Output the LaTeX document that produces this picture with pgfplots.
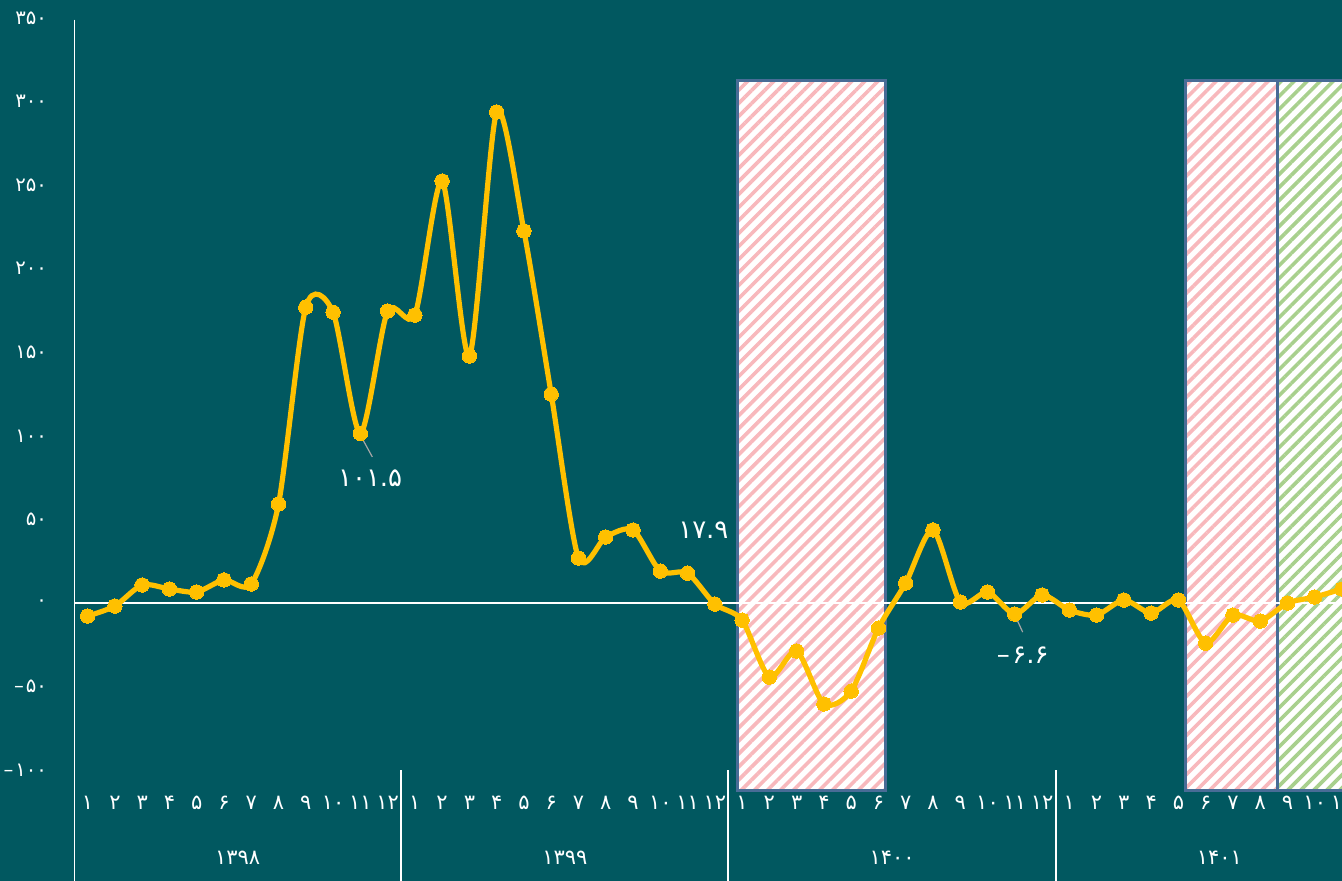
\documentclass[border=0pt]{standalone}
\usepackage{fontspec}
\setmainfont{DejaVu Sans}
\usepackage{pgfplots}
\pgfplotsset{compat=1.18}
\usetikzlibrary{patterns.meta}
\definecolor{bg}{RGB}{1,88,96}
\definecolor{gold}{RGB}{255,192,0}
\definecolor{pinkh}{RGB}{248,184,188}
\definecolor{greenh}{RGB}{168,208,141}
\definecolor{rectb}{RGB}{72,108,150}
\pgfplotstableread{
x y
0.5 -7.8
1.5 -1.8
2.5 10.8
3.5 8.4
4.5 6.6
5.5 13.8
6.5 11.4
7.5 59.2
8.5 177
9.5 174
10.5 101.5
11.5 174.7
12.5 172.3
13.5 252.5
14.5 147.8
15.5 293.8
16.5 222.6
17.5 125
18.5 26.9
19.5 39.5
20.5 43.7
21.5 19.1
22.5 17.9
23.5 -0.6
24.5 -10.2
25.5 -44.3
26.5 -28.7
27.5 -60.4
28.5 -52.7
29.5 -15
30.5 12
31.5 43.7
32.5 0.6
33.5 6.6
34.5 -6.6
35.5 4.8
36.5 -4.2
37.5 -7.2
38.5 1.8
39.5 -6
40.5 1.8
41.5 -24
42.5 -7.2
43.5 -10.8
44.5 0
45.5 3.6
46.5 8.4
}\datatable
\begin{document}
\begin{tikzpicture}
\fill[bg] (0,0) rectangle (671pt,440.5pt);
\useasboundingbox (0,0) rectangle (671pt,440.5pt);
\begin{axis}[
  at={(37pt,0pt)}, anchor=south west,
  scale only axis, width=634pt, height=440.5pt,
  xmin=0, xmax=46.5, ymin=-166.3, ymax=360.8,
  axis line style={draw=none},
  major tick length=0pt,
  ytick={-100,-50,...,350},
  yticklabels={–\kern0.1em۱۰۰,–\kern0.1em۵۰,۰,۵۰,۱۰۰,۱۵۰,۲۰۰,۲۵۰,۳۰۰,۳۵۰},
  yticklabel style={font=\fontsize{9.8}{11}\selectfont, text=white, xshift=-10pt},
  xtick={0.5,1.5,...,46.5},
  xticklabels={۱,۲,۳,۴,۵,۶,۷,۸,۹,۱۰,۱۱,۱۲,۱,۲,۳,۴,۵,۶,۷,۸,۹,۱۰,۱۱,۱۲,۱,۲,۳,۴,۵,۶,۷,۸,۹,۱۰,۱۱,۱۲,۱,۲,۳,۴,۵,۶,۷,۸,۹,۱۰,۱۱},
  xticklabel style={font=\fontsize{10.5}{11}\selectfont, text=white, anchor=center, yshift=39pt},
  clip=true,
]
% shaded periods
\fill[white] (axis cs:24.33,-111.9) rectangle (axis cs:29.76,312.9);
\fill[pattern={Lines[angle=45,distance=4.6pt,line width=1.8pt]}, pattern color=pinkh] (axis cs:24.33,-111.9) rectangle (axis cs:29.76,312.9);
\draw[rectb, line width=1.5pt] (axis cs:24.33,-111.9) rectangle (axis cs:29.76,312.9);
\fill[white] (axis cs:40.77,-111.9) rectangle (axis cs:44.15,312.9);
\fill[pattern={Lines[angle=45,distance=4.6pt,line width=1.8pt]}, pattern color=pinkh] (axis cs:40.77,-111.9) rectangle (axis cs:44.15,312.9);
\draw[rectb, line width=1.5pt] (axis cs:40.77,-111.9) rectangle (axis cs:44.15,312.9);
\fill[white] (axis cs:44.15,-111.9) rectangle (axis cs:48,312.9);
\fill[pattern={Lines[angle=45,distance=4.6pt,line width=1.8pt]}, pattern color=greenh] (axis cs:44.15,-111.9) rectangle (axis cs:48,312.9);
\draw[rectb, line width=1.5pt] (axis cs:44.15,-111.9) rectangle (axis cs:48,312.9);
% axis lines
\draw[white, line width=1pt] (axis cs:0,0) -- (axis cs:46.5,0);
\draw[white, line width=1.2pt] (axis cs:0,349) -- (axis cs:0,-166.3);
\draw[white, line width=1pt] (axis cs:12,-100) -- (axis cs:12,-166.3);
\draw[white, line width=1pt] (axis cs:24,-100) -- (axis cs:24,-166.3);
\draw[white, line width=1pt] (axis cs:36,-100) -- (axis cs:36,-166.3);
% years
\node[text=white, font=\fontsize{10.5}{11}\selectfont] at (axis cs:6,-152.6) {۱۳۹۸};
\node[text=white, font=\fontsize{10.5}{11}\selectfont] at (axis cs:18,-152.6) {۱۳۹۹};
\node[text=white, font=\fontsize{10.5}{11}\selectfont] at (axis cs:30,-152.6) {۱۴۰۰};
\node[text=white, font=\fontsize{10.5}{11}\selectfont] at (axis cs:42,-152.6) {۱۴۰۱};
% series
\addplot[gold, line width=2.6pt, smooth, tension=0.45, mark=*, mark size=3.6pt, mark options={fill=gold, draw=gold, line width=0pt}] table[x=x, y=y] {\datatable};
% data labels
\draw[gray!70, line width=0.6pt] (axis cs:10.5,100.5) -- (axis cs:10.94,87.4);
\node[text=white, font=\fontsize{13}{14}\selectfont] at (axis cs:10.86,74.8) {۱۰۱.۵};
\node[text=white, font=\fontsize{13}{14}\selectfont] at (axis cs:23.08,43.7) {۱۷.۹};
\draw[gray!70, line width=0.6pt] (axis cs:34.5,-7.2) -- (axis cs:34.79,-17.4);
\node[text=white, font=\fontsize{13}{14}\selectfont] at (axis cs:34.79,-31.1) {–\kern0.1em۶.۶};
\end{axis}
\end{tikzpicture}
\end{document}
